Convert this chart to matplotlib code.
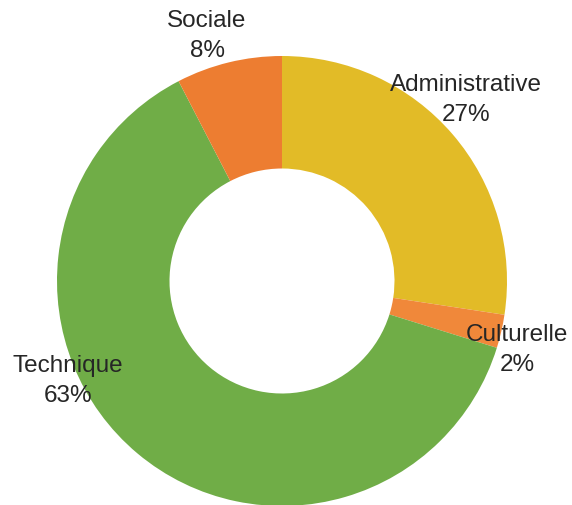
import matplotlib
matplotlib.use('Agg')
from matplotlib import pyplot as plt

# Donut chart data (share of each category, in %)
categories = ['Administrative', 'Culturelle', 'Technique', 'Sociale']
values = [27.4, 2.4, 62.6, 7.6]
colors = ['#E2BB27', '#F0883A', '#70AD47', '#ED7D31']

# label centres in data units (pie radius = 1)
label_pos = [(0.818, 0.809), (1.044, -0.302), (-0.951, -0.44), (-0.333, 1.093)]

fig = plt.figure(figsize=(5.72, 5.06), dpi=100)
ax = fig.add_axes([0, 0, 1, 1])

ax.pie(values, colors=colors, startangle=90, counterclock=False,
       radius=1.0, wedgeprops=dict(width=0.5, edgecolor='none'))

total = sum(values)
for name, v, (x, y) in zip(categories, values, label_pos):
    ax.text(x, y, '{}\n{:.0f}%'.format(name, v / total * 100),
            ha='center', va='center', fontsize=17.5, color='#262626',
            family='Liberation Sans', linespacing=1.45)

ax.set_xlim(-282 / 225, (572 - 282) / 225)
ax.set_ylim(-(506 - 282) / 225, 282 / 225)
ax.set_aspect('equal')
ax.axis('off')

fig.savefig('out.png', dpi=100)
